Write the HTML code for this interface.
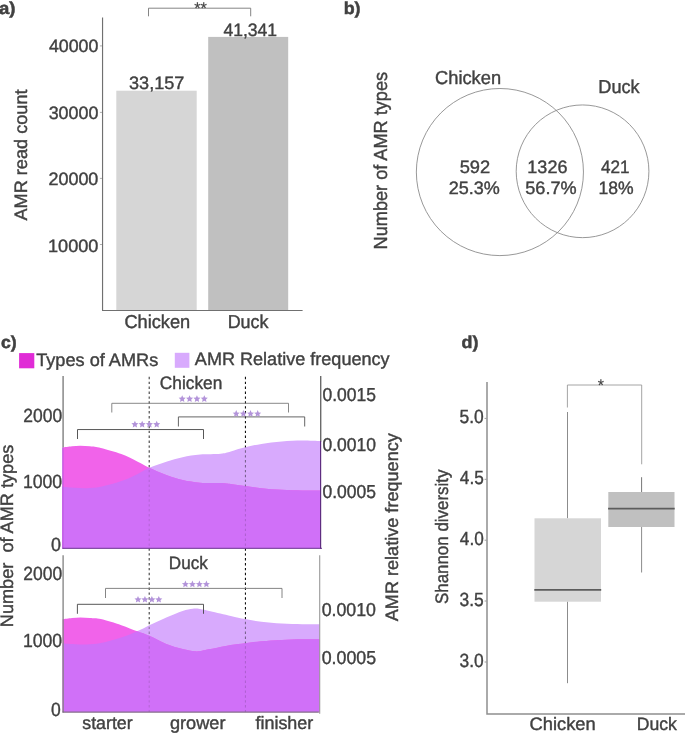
<!DOCTYPE html>
<html><head><meta charset="utf-8"><title>figure</title>
<style>
html,body{margin:0;padding:0;background:#fff;}
body{width:685px;height:733px;overflow:hidden;font-family:"Liberation Sans",sans-serif;}
svg{display:block;}
svg text{font-family:"Liberation Sans",sans-serif;text-rendering:geometricPrecision;white-space:pre;}
</style></head><body>
<svg width="685" height="733" viewBox="0 0 685 733" style="will-change:transform">
<rect x="0" y="0" width="685" height="733" fill="#ffffff"/>
<text transform="translate(-1.04 13.50) scale(1.0771 1)" font-size="17.20" font-weight="bold" fill="#414141" stroke="#414141" stroke-width="0.50">a)</text>
<rect x="116.30" y="90.70" width="80.40" height="219.80" fill="#d6d6d6"/>
<rect x="208.20" y="36.90" width="80.00" height="273.60" fill="#c0c0c0"/>
<path d="M102.55,17.5 V310.5 H302.6" stroke="#707070" stroke-width="1.15" fill="none"/>
<line x1="99.90" y1="45.90" x2="102.00" y2="45.90" stroke="#999" stroke-width="0.80"/>
<text transform="translate(48.92 52.20) scale(0.9877 1)" font-size="18.00" font-weight="normal" fill="#414141" stroke="#414141" stroke-width="0.40">40000</text>
<line x1="99.90" y1="112.40" x2="102.00" y2="112.40" stroke="#999" stroke-width="0.80"/>
<text transform="translate(48.65 119.00) scale(0.9932 1)" font-size="18.00" font-weight="normal" fill="#414141" stroke="#414141" stroke-width="0.40">30000</text>
<line x1="99.90" y1="178.40" x2="102.00" y2="178.40" stroke="#999" stroke-width="0.80"/>
<text transform="translate(48.42 185.30) scale(0.9978 1)" font-size="18.00" font-weight="normal" fill="#414141" stroke="#414141" stroke-width="0.40">20000</text>
<line x1="99.90" y1="244.50" x2="102.00" y2="244.50" stroke="#999" stroke-width="0.80"/>
<text transform="translate(47.96 251.70) scale(1.0072 1)" font-size="18.00" font-weight="normal" fill="#414141" stroke="#414141" stroke-width="0.40">10000</text>
<text transform="translate(129.04 88.80) scale(1.0056 1)" font-size="18.00" font-weight="normal" fill="#414141" stroke="#414141" stroke-width="0.40">33,157</text>
<text transform="translate(223.43 35.60) scale(0.9737 1)" font-size="18.00" font-weight="normal" fill="#414141" stroke="#414141" stroke-width="0.40">41,341</text>
<path d="M148.5,16.3 V8.2 H250.7 V16.3" stroke="#777" stroke-width="0.90" fill="none"/>
<text transform="translate(194.21 14.40) scale(0.9633 1)" font-size="17.00" font-weight="normal" fill="#414141" stroke="#414141" stroke-width="0.15">**</text>
<text transform="translate(124.41 328.20) scale(0.9801 1)" font-size="18.60" font-weight="normal" fill="#414141" stroke="#414141" stroke-width="0.40">Chicken</text>
<text transform="translate(227.64 328.20) scale(0.9641 1)" font-size="18.60" font-weight="normal" fill="#414141" stroke="#414141" stroke-width="0.40">Duck</text>
<text transform="translate(26.80 220.53) rotate(-90) scale(1.0076 1)" font-size="18.00" font-weight="normal" fill="#414141" stroke="#414141" stroke-width="0.40">AMR read count</text>
<text transform="translate(343.66 13.50) scale(1.0370 1)" font-size="17.20" font-weight="bold" fill="#414141" stroke="#414141" stroke-width="0.50">b)</text>
<circle cx="499.9" cy="172.05" r="83.55" fill="none" stroke="#858585" stroke-width="0.85"/>
<circle cx="582.55" cy="171.3" r="66.35" fill="none" stroke="#858585" stroke-width="0.85"/>
<text transform="translate(435.00 83.60) scale(0.9743 1)" font-size="18.80" font-weight="normal" fill="#414141" stroke="#414141" stroke-width="0.40">Chicken</text>
<text transform="translate(598.33 93.00) scale(0.9635 1)" font-size="18.80" font-weight="normal" fill="#414141" stroke="#414141" stroke-width="0.40">Duck</text>
<text transform="translate(459.69 172.70) scale(1.0164 1)" font-size="18.00" font-weight="normal" fill="#414141" stroke="#414141" stroke-width="0.40">592</text>
<text transform="translate(448.72 194.40) scale(1.0012 1)" font-size="18.00" font-weight="normal" fill="#414141" stroke="#414141" stroke-width="0.40">25.3%</text>
<text transform="translate(527.37 172.70) scale(0.9992 1)" font-size="18.00" font-weight="normal" fill="#414141" stroke="#414141" stroke-width="0.40">1326</text>
<text transform="translate(525.30 194.40) scale(1.0056 1)" font-size="18.00" font-weight="normal" fill="#414141" stroke="#414141" stroke-width="0.40">56.7%</text>
<text transform="translate(601.03 172.70) scale(0.9515 1)" font-size="18.00" font-weight="normal" fill="#414141" stroke="#414141" stroke-width="0.40">421</text>
<text transform="translate(598.50 194.40) scale(0.9747 1)" font-size="18.00" font-weight="normal" fill="#414141" stroke="#414141" stroke-width="0.40">18%</text>
<text transform="translate(387.40 249.38) rotate(-90) scale(0.9605 1)" font-size="18.90" font-weight="normal" fill="#414141" stroke="#414141" stroke-width="0.40">Number of AMR types</text>
<text transform="translate(1.01 347.90) scale(1.0250 1)" font-size="17.20" font-weight="bold" fill="#414141" stroke="#414141" stroke-width="0.50">c)</text>
<rect x="19.10" y="353.10" width="15.20" height="15.20" fill="#e02bd6"/>
<text transform="translate(36.21 365.90) scale(1.0079 1)" font-size="18.00" font-weight="normal" fill="#414141" stroke="#414141" stroke-width="0.40">Types of AMRs</text>
<rect x="174.80" y="352.80" width="14.60" height="15.00" fill="#d8aafd"/>
<text transform="translate(194.87 365.20) scale(1.0034 1)" font-size="18.00" font-weight="normal" fill="#414141" stroke="#414141" stroke-width="0.40">AMR Relative frequency</text>
<defs>
<clipPath id="cm"><path d="M62.40,447.50 C64.00,447.28 69.00,446.50 72.00,446.20 C75.00,445.90 77.40,445.68 80.40,445.70 C83.40,445.72 86.58,445.92 90.00,446.30 C93.42,446.68 95.68,446.70 100.90,448.00 C106.12,449.30 115.17,451.82 121.30,454.10 C127.43,456.38 133.03,459.42 137.70,461.70 C142.37,463.98 144.53,465.58 149.30,467.80 C154.07,470.02 160.75,472.95 166.30,475.00 C171.85,477.05 176.98,478.82 182.60,480.10 C188.22,481.38 193.67,482.20 200.00,482.70 C206.33,483.20 215.47,482.87 220.60,483.10 C225.73,483.33 226.72,483.60 230.80,484.10 C234.88,484.60 240.00,485.42 245.10,486.10 C250.20,486.78 255.28,487.58 261.40,488.20 C267.52,488.82 275.00,489.43 281.80,489.80 C288.60,490.17 295.73,490.27 302.20,490.40 C308.67,490.53 317.53,490.57 320.60,490.60 L320.60,548.30 L62.40,548.30 Z"/><path d="M62.60,619.20 C64.17,618.98 69.03,618.20 72.00,617.90 C74.97,617.60 77.40,617.40 80.40,617.40 C83.40,617.40 86.58,617.62 90.00,617.90 C93.42,618.18 95.68,617.88 100.90,619.10 C106.12,620.32 115.25,623.17 121.30,625.20 C127.35,627.23 132.53,629.53 137.20,631.30 C141.87,633.07 144.45,633.68 149.30,635.80 C154.15,637.92 160.75,641.78 166.30,644.00 C171.85,646.22 177.85,647.88 182.60,649.10 C187.35,650.32 191.57,651.03 194.80,651.30 C198.03,651.57 199.40,651.07 202.00,650.70 C204.60,650.33 205.60,650.05 210.40,649.10 C215.20,648.15 225.02,645.98 230.80,645.00 C236.58,644.02 240.00,643.82 245.10,643.20 C250.20,642.58 255.28,641.85 261.40,641.30 C267.52,640.75 275.00,640.23 281.80,639.90 C288.60,639.57 295.90,639.40 302.20,639.30 C308.50,639.20 316.70,639.30 319.60,639.30 L319.60,712.20 L62.60,712.20 Z"/></clipPath>
<clipPath id="cl"><path d="M62.40,486.80 C64.50,486.97 70.97,487.57 75.00,487.80 C79.03,488.03 82.28,488.37 86.60,488.20 C90.92,488.03 95.12,487.98 100.90,486.80 C106.68,485.62 115.17,483.25 121.30,481.10 C127.43,478.95 133.03,476.12 137.70,473.90 C142.37,471.68 144.53,469.83 149.30,467.80 C154.07,465.77 160.75,463.47 166.30,461.70 C171.85,459.93 176.95,458.40 182.60,457.20 C188.25,456.00 193.87,455.08 200.20,454.50 C206.53,453.92 215.50,454.22 220.60,453.70 C225.70,453.18 226.72,452.47 230.80,451.40 C234.88,450.33 240.00,448.55 245.10,447.30 C250.20,446.05 255.28,444.88 261.40,443.90 C267.52,442.92 275.00,441.95 281.80,441.40 C288.60,440.85 295.73,440.63 302.20,440.60 C308.67,440.57 317.53,441.10 320.60,441.20 L320.60,548.30 L62.40,548.30 Z"/><path d="M62.60,643.60 C64.67,643.70 71.00,644.07 75.00,644.20 C79.00,644.33 82.28,644.60 86.60,644.40 C90.92,644.20 95.12,644.15 100.90,643.00 C106.68,641.85 115.25,639.45 121.30,637.50 C127.35,635.55 132.53,633.35 137.20,631.30 C141.87,629.25 144.45,627.52 149.30,625.20 C154.15,622.88 160.75,619.78 166.30,617.40 C171.85,615.02 178.20,612.35 182.60,610.90 C187.00,609.45 189.80,609.02 192.70,608.70 C195.60,608.38 197.05,608.57 200.00,609.00 C202.95,609.43 205.27,610.13 210.40,611.30 C215.53,612.47 225.02,614.70 230.80,616.00 C236.58,617.30 240.00,618.15 245.10,619.10 C250.20,620.05 255.28,620.95 261.40,621.70 C267.52,622.45 275.00,623.18 281.80,623.60 C288.60,624.02 295.90,624.10 302.20,624.20 C308.50,624.30 316.70,624.20 319.60,624.20 L319.60,712.20 L62.60,712.20 Z"/></clipPath>
</defs>
<g opacity="1.00">
<line x1="149.20" y1="376.80" x2="149.20" y2="712.00" stroke="#363636" stroke-width="1.05" stroke-dasharray="2.4 2.5"/>
<line x1="245.45" y1="376.80" x2="245.45" y2="712.00" stroke="#111" stroke-width="1.10" stroke-dasharray="2.4 2.5"/>
</g>
<path d="M62.40,486.80 C64.50,486.97 70.97,487.57 75.00,487.80 C79.03,488.03 82.28,488.37 86.60,488.20 C90.92,488.03 95.12,487.98 100.90,486.80 C106.68,485.62 115.17,483.25 121.30,481.10 C127.43,478.95 133.03,476.12 137.70,473.90 C142.37,471.68 144.53,469.83 149.30,467.80 C154.07,465.77 160.75,463.47 166.30,461.70 C171.85,459.93 176.95,458.40 182.60,457.20 C188.25,456.00 193.87,455.08 200.20,454.50 C206.53,453.92 215.50,454.22 220.60,453.70 C225.70,453.18 226.72,452.47 230.80,451.40 C234.88,450.33 240.00,448.55 245.10,447.30 C250.20,446.05 255.28,444.88 261.40,443.90 C267.52,442.92 275.00,441.95 281.80,441.40 C288.60,440.85 295.73,440.63 302.20,440.60 C308.67,440.57 317.53,441.10 320.60,441.20 L320.60,548.30 L62.40,548.30 Z" stroke="none" stroke-width="0.00" fill="#d8aafd"/>
<path d="M62.60,643.60 C64.67,643.70 71.00,644.07 75.00,644.20 C79.00,644.33 82.28,644.60 86.60,644.40 C90.92,644.20 95.12,644.15 100.90,643.00 C106.68,641.85 115.25,639.45 121.30,637.50 C127.35,635.55 132.53,633.35 137.20,631.30 C141.87,629.25 144.45,627.52 149.30,625.20 C154.15,622.88 160.75,619.78 166.30,617.40 C171.85,615.02 178.20,612.35 182.60,610.90 C187.00,609.45 189.80,609.02 192.70,608.70 C195.60,608.38 197.05,608.57 200.00,609.00 C202.95,609.43 205.27,610.13 210.40,611.30 C215.53,612.47 225.02,614.70 230.80,616.00 C236.58,617.30 240.00,618.15 245.10,619.10 C250.20,620.05 255.28,620.95 261.40,621.70 C267.52,622.45 275.00,623.18 281.80,623.60 C288.60,624.02 295.90,624.10 302.20,624.20 C308.50,624.30 316.70,624.20 319.60,624.20 L319.60,712.20 L62.60,712.20 Z" stroke="none" stroke-width="0.00" fill="#d8aafd"/>
<g opacity="0.47" clip-path="url(#cl)">
<line x1="149.20" y1="376.80" x2="149.20" y2="712.00" stroke="#363636" stroke-width="1.05" stroke-dasharray="2.4 2.5"/>
<line x1="245.45" y1="376.80" x2="245.45" y2="712.00" stroke="#111" stroke-width="1.10" stroke-dasharray="2.4 2.5"/>
</g>
<path d="M62.40,447.50 C64.00,447.28 69.00,446.50 72.00,446.20 C75.00,445.90 77.40,445.68 80.40,445.70 C83.40,445.72 86.58,445.92 90.00,446.30 C93.42,446.68 95.68,446.70 100.90,448.00 C106.12,449.30 115.17,451.82 121.30,454.10 C127.43,456.38 133.03,459.42 137.70,461.70 C142.37,463.98 144.53,465.58 149.30,467.80 C154.07,470.02 160.75,472.95 166.30,475.00 C171.85,477.05 176.98,478.82 182.60,480.10 C188.22,481.38 193.67,482.20 200.00,482.70 C206.33,483.20 215.47,482.87 220.60,483.10 C225.73,483.33 226.72,483.60 230.80,484.10 C234.88,484.60 240.00,485.42 245.10,486.10 C250.20,486.78 255.28,487.58 261.40,488.20 C267.52,488.82 275.00,489.43 281.80,489.80 C288.60,490.17 295.73,490.27 302.20,490.40 C308.67,490.53 317.53,490.57 320.60,490.60 L320.60,548.30 L62.40,548.30 Z" stroke="none" stroke-width="0.00" fill="#f163ea"/>
<path d="M62.60,619.20 C64.17,618.98 69.03,618.20 72.00,617.90 C74.97,617.60 77.40,617.40 80.40,617.40 C83.40,617.40 86.58,617.62 90.00,617.90 C93.42,618.18 95.68,617.88 100.90,619.10 C106.12,620.32 115.25,623.17 121.30,625.20 C127.35,627.23 132.53,629.53 137.20,631.30 C141.87,633.07 144.45,633.68 149.30,635.80 C154.15,637.92 160.75,641.78 166.30,644.00 C171.85,646.22 177.85,647.88 182.60,649.10 C187.35,650.32 191.57,651.03 194.80,651.30 C198.03,651.57 199.40,651.07 202.00,650.70 C204.60,650.33 205.60,650.05 210.40,649.10 C215.20,648.15 225.02,645.98 230.80,645.00 C236.58,644.02 240.00,643.82 245.10,643.20 C250.20,642.58 255.28,641.85 261.40,641.30 C267.52,640.75 275.00,640.23 281.80,639.90 C288.60,639.57 295.90,639.40 302.20,639.30 C308.50,639.20 316.70,639.30 319.60,639.30 L319.60,712.20 L62.60,712.20 Z" stroke="none" stroke-width="0.00" fill="#f163ea"/>
<g clip-path="url(#cm)">
<path d="M62.40,486.80 C64.50,486.97 70.97,487.57 75.00,487.80 C79.03,488.03 82.28,488.37 86.60,488.20 C90.92,488.03 95.12,487.98 100.90,486.80 C106.68,485.62 115.17,483.25 121.30,481.10 C127.43,478.95 133.03,476.12 137.70,473.90 C142.37,471.68 144.53,469.83 149.30,467.80 C154.07,465.77 160.75,463.47 166.30,461.70 C171.85,459.93 176.95,458.40 182.60,457.20 C188.25,456.00 193.87,455.08 200.20,454.50 C206.53,453.92 215.50,454.22 220.60,453.70 C225.70,453.18 226.72,452.47 230.80,451.40 C234.88,450.33 240.00,448.55 245.10,447.30 C250.20,446.05 255.28,444.88 261.40,443.90 C267.52,442.92 275.00,441.95 281.80,441.40 C288.60,440.85 295.73,440.63 302.20,440.60 C308.67,440.57 317.53,441.10 320.60,441.20 L320.60,548.30 L62.40,548.30 Z" stroke="none" stroke-width="0.00" fill="#d070f8"/>
<path d="M62.60,643.60 C64.67,643.70 71.00,644.07 75.00,644.20 C79.00,644.33 82.28,644.60 86.60,644.40 C90.92,644.20 95.12,644.15 100.90,643.00 C106.68,641.85 115.25,639.45 121.30,637.50 C127.35,635.55 132.53,633.35 137.20,631.30 C141.87,629.25 144.45,627.52 149.30,625.20 C154.15,622.88 160.75,619.78 166.30,617.40 C171.85,615.02 178.20,612.35 182.60,610.90 C187.00,609.45 189.80,609.02 192.70,608.70 C195.60,608.38 197.05,608.57 200.00,609.00 C202.95,609.43 205.27,610.13 210.40,611.30 C215.53,612.47 225.02,614.70 230.80,616.00 C236.58,617.30 240.00,618.15 245.10,619.10 C250.20,620.05 255.28,620.95 261.40,621.70 C267.52,622.45 275.00,623.18 281.80,623.60 C288.60,624.02 295.90,624.10 302.20,624.20 C308.50,624.30 316.70,624.20 319.60,624.20 L319.60,712.20 L62.60,712.20 Z" stroke="none" stroke-width="0.00" fill="#d070f8"/>
</g>
<g opacity="0.16" clip-path="url(#cm)">
<line x1="149.20" y1="376.80" x2="149.20" y2="712.00" stroke="#363636" stroke-width="1.05" stroke-dasharray="2.4 2.5"/>
<line x1="245.45" y1="376.80" x2="245.45" y2="712.00" stroke="#111" stroke-width="1.10" stroke-dasharray="2.4 2.5"/>
</g>
<line x1="63.10" y1="376.00" x2="63.10" y2="447.60" stroke="#888" stroke-width="1.50"/>
<line x1="62.90" y1="447.40" x2="62.90" y2="548.60" stroke="#b255dc" stroke-width="1.00"/>
<line x1="62.40" y1="548.30" x2="322.00" y2="548.30" stroke="#6a3590" stroke-width="1.00"/>
<line x1="320.70" y1="376.00" x2="320.70" y2="441.40" stroke="#6a6a6a" stroke-width="1.40"/>
<line x1="320.60" y1="441.00" x2="320.60" y2="548.80" stroke="#5e2d80" stroke-width="1.20"/>
<line x1="63.10" y1="555.30" x2="63.10" y2="712.60" stroke="#808080" stroke-width="1.30"/>
<line x1="62.50" y1="712.10" x2="318.80" y2="712.10" stroke="#707070" stroke-width="1.00"/>
<line x1="319.70" y1="555.30" x2="319.70" y2="713.70" stroke="#999" stroke-width="1.10"/>
<text transform="translate(23.35 422.20) scale(0.9185 1)" font-size="19.00" font-weight="normal" fill="#414141" stroke="#414141" stroke-width="0.40">2000</text>
<text transform="translate(22.90 488.20) scale(0.9294 1)" font-size="19.00" font-weight="normal" fill="#414141" stroke="#414141" stroke-width="0.40">1000</text>
<text transform="translate(50.90 551.20) scale(0.9435 1)" font-size="19.00" font-weight="normal" fill="#414141" stroke="#414141" stroke-width="0.40">0</text>
<text transform="translate(23.35 580.20) scale(0.9185 1)" font-size="19.00" font-weight="normal" fill="#414141" stroke="#414141" stroke-width="0.40">2000</text>
<text transform="translate(22.90 647.20) scale(0.9294 1)" font-size="19.00" font-weight="normal" fill="#414141" stroke="#414141" stroke-width="0.40">1000</text>
<text transform="translate(50.92 716.40) scale(0.9215 1)" font-size="19.00" font-weight="normal" fill="#414141" stroke="#414141" stroke-width="0.40">0</text>
<text transform="translate(322.52 400.50) scale(0.9300 1)" font-size="18.80" font-weight="normal" fill="#414141" stroke="#414141" stroke-width="0.40">0.0015</text>
<text transform="translate(322.52 450.80) scale(0.9292 1)" font-size="18.80" font-weight="normal" fill="#414141" stroke="#414141" stroke-width="0.40">0.0010</text>
<text transform="translate(322.52 498.20) scale(0.9300 1)" font-size="18.80" font-weight="normal" fill="#414141" stroke="#414141" stroke-width="0.40">0.0005</text>
<text transform="translate(321.71 616.20) scale(0.9444 1)" font-size="18.80" font-weight="normal" fill="#414141" stroke="#414141" stroke-width="0.40">0.0010</text>
<text transform="translate(321.71 664.40) scale(0.9452 1)" font-size="18.80" font-weight="normal" fill="#414141" stroke="#414141" stroke-width="0.40">0.0005</text>
<text transform="translate(159.86 389.10) scale(0.9604 1)" font-size="18.00" font-weight="normal" fill="#414141" stroke="#414141" stroke-width="0.40">Chicken</text>
<text transform="translate(168.81 569.00) scale(0.9506 1)" font-size="18.00" font-weight="normal" fill="#414141" stroke="#414141" stroke-width="0.40">Duck</text>
<path d="M111.8,412.5 V403.3 H288.5 V412.5" stroke="#7a7a7a" stroke-width="0.90" fill="none"/>
<path d="M178.4,426.5 V416.9 H304.7 V426.5" stroke="#555" stroke-width="0.90" fill="none"/>
<path d="M77.5,439.0 V429.55 H203.5 V439.0" stroke="#444" stroke-width="0.90" fill="none"/>
<polygon points="182.20,395.20 183.23,397.48 185.72,397.76 183.86,399.44 184.37,401.89 182.20,400.65 180.03,401.89 180.54,399.44 178.68,397.76 181.17,397.48" fill="#b394da"/>
<polygon points="189.57,395.20 190.60,397.48 193.09,397.76 191.23,399.44 191.74,401.89 189.57,400.65 187.39,401.89 187.90,399.44 186.05,397.76 188.54,397.48" fill="#b394da"/>
<polygon points="196.93,395.20 197.96,397.48 200.45,397.76 198.60,399.44 199.11,401.89 196.93,400.65 194.76,401.89 195.27,399.44 193.41,397.76 195.90,397.48" fill="#b394da"/>
<polygon points="204.30,395.20 205.33,397.48 207.82,397.76 205.96,399.44 206.47,401.89 204.30,400.65 202.13,401.89 202.64,399.44 200.78,397.76 203.27,397.48" fill="#b394da"/>
<polygon points="236.20,410.10 237.23,412.38 239.72,412.66 237.86,414.34 238.37,416.79 236.20,415.55 234.03,416.79 234.54,414.34 232.68,412.66 235.17,412.38" fill="#b394da"/>
<polygon points="243.37,410.10 244.40,412.38 246.89,412.66 245.03,414.34 245.54,416.79 243.37,415.55 241.19,416.79 241.70,414.34 239.85,412.66 242.34,412.38" fill="#b394da"/>
<polygon points="250.53,410.10 251.56,412.38 254.05,412.66 252.20,414.34 252.71,416.79 250.53,415.55 248.36,416.79 248.87,414.34 247.01,412.66 249.50,412.38" fill="#b394da"/>
<polygon points="257.70,410.10 258.73,412.38 261.22,412.66 259.36,414.34 259.87,416.79 257.70,415.55 255.53,416.79 256.04,414.34 254.18,412.66 256.67,412.38" fill="#b394da"/>
<polygon points="134.90,420.80 135.93,423.08 138.42,423.36 136.56,425.04 137.07,427.49 134.90,426.25 132.73,427.49 133.24,425.04 131.38,423.36 133.87,423.08" fill="#b394da"/>
<polygon points="142.17,420.80 143.20,423.08 145.69,423.36 143.83,425.04 144.34,427.49 142.17,426.25 139.99,427.49 140.50,425.04 138.65,423.36 141.14,423.08" fill="#b394da"/>
<polygon points="149.43,420.80 150.46,423.08 152.95,423.36 151.10,425.04 151.61,427.49 149.43,426.25 147.26,427.49 147.77,425.04 145.91,423.36 148.40,423.08" fill="#b394da"/>
<polygon points="156.70,420.80 157.73,423.08 160.22,423.36 158.36,425.04 158.87,427.49 156.70,426.25 154.53,427.49 155.04,425.04 153.18,423.36 155.67,423.08" fill="#b394da"/>
<path d="M105.5,598 V588.4 H282 V598" stroke="#777" stroke-width="0.90" fill="none"/>
<path d="M77.4,613.8 V604.3 H203.5 V613.8" stroke="#444" stroke-width="0.90" fill="none"/>
<polygon points="185.40,580.60 186.43,582.88 188.92,583.16 187.06,584.84 187.57,587.29 185.40,586.05 183.23,587.29 183.74,584.84 181.88,583.16 184.37,582.88" fill="#b394da"/>
<polygon points="192.40,580.60 193.43,582.88 195.92,583.16 194.06,584.84 194.57,587.29 192.40,586.05 190.23,587.29 190.74,584.84 188.88,583.16 191.37,582.88" fill="#b394da"/>
<polygon points="199.40,580.60 200.43,582.88 202.92,583.16 201.06,584.84 201.57,587.29 199.40,586.05 197.23,587.29 197.74,584.84 195.88,583.16 198.37,582.88" fill="#b394da"/>
<polygon points="206.40,580.60 207.43,582.88 209.92,583.16 208.06,584.84 208.57,587.29 206.40,586.05 204.23,587.29 204.74,584.84 202.88,583.16 205.37,582.88" fill="#b394da"/>
<polygon points="138.00,595.90 139.03,598.18 141.52,598.46 139.66,600.14 140.17,602.59 138.00,601.35 135.83,602.59 136.34,600.14 134.48,598.46 136.97,598.18" fill="#b394da"/>
<polygon points="144.93,595.90 145.96,598.18 148.45,598.46 146.60,600.14 147.11,602.59 144.93,601.35 142.76,602.59 143.27,600.14 141.41,598.46 143.90,598.18" fill="#b394da"/>
<polygon points="151.87,595.90 152.90,598.18 155.39,598.46 153.53,600.14 154.04,602.59 151.87,601.35 149.69,602.59 150.20,600.14 148.35,598.46 150.84,598.18" fill="#b394da"/>
<polygon points="158.80,595.90 159.83,598.18 162.32,598.46 160.46,600.14 160.97,602.59 158.80,601.35 156.63,602.59 157.14,600.14 155.28,598.46 157.77,598.18" fill="#b394da"/>
<text transform="translate(82.23 728.90) scale(0.9888 1)" font-size="18.00" font-weight="normal" fill="#414141" stroke="#414141" stroke-width="0.40">starter</text>
<text transform="translate(169.95 728.90) scale(1.0094 1)" font-size="18.00" font-weight="normal" fill="#414141" stroke="#414141" stroke-width="0.40">grower</text>
<text transform="translate(255.45 728.90) scale(0.9964 1)" font-size="18.00" font-weight="normal" fill="#414141" stroke="#414141" stroke-width="0.40">finisher</text>
<text transform="translate(13.40 627.18) rotate(-90) scale(1.0078 1)" font-size="18.00" font-weight="normal" fill="#414141" stroke="#414141" stroke-width="0.40">Number  of AMR types</text>
<text transform="translate(398.00 621.23) rotate(-90) scale(1.0053 1)" font-size="18.00" font-weight="normal" fill="#414141" stroke="#414141" stroke-width="0.40">AMR relative frequency</text>
<text transform="translate(461.50 347.80) scale(1.0407 1)" font-size="17.20" font-weight="bold" fill="#414141" stroke="#414141" stroke-width="0.50">d)</text>
<path d="M487.0,382 V714.0 H685" stroke="#8f8f8f" stroke-width="1.50" fill="none"/>
<line x1="484.60" y1="418.40" x2="486.50" y2="418.40" stroke="#8f8f8f" stroke-width="0.90"/>
<text transform="translate(459.52 423.00) scale(0.9167 1)" font-size="19.00" font-weight="normal" fill="#414141" stroke="#414141" stroke-width="0.40">5.0</text>
<line x1="484.60" y1="479.30" x2="486.50" y2="479.30" stroke="#8f8f8f" stroke-width="0.90"/>
<text transform="translate(459.83 483.90) scale(0.9063 1)" font-size="19.00" font-weight="normal" fill="#414141" stroke="#414141" stroke-width="0.40">4.5</text>
<line x1="484.60" y1="540.20" x2="486.50" y2="540.20" stroke="#8f8f8f" stroke-width="0.90"/>
<text transform="translate(459.83 544.80) scale(0.9046 1)" font-size="19.00" font-weight="normal" fill="#414141" stroke="#414141" stroke-width="0.40">4.0</text>
<line x1="484.60" y1="601.00" x2="486.50" y2="601.00" stroke="#8f8f8f" stroke-width="0.90"/>
<text transform="translate(459.57 605.60) scale(0.9167 1)" font-size="19.00" font-weight="normal" fill="#414141" stroke="#414141" stroke-width="0.40">3.5</text>
<line x1="484.60" y1="662.00" x2="486.50" y2="662.00" stroke="#8f8f8f" stroke-width="0.90"/>
<text transform="translate(459.57 666.60) scale(0.9149 1)" font-size="19.00" font-weight="normal" fill="#414141" stroke="#414141" stroke-width="0.40">3.0</text>
<line x1="567.50" y1="412.00" x2="567.50" y2="518.30" stroke="#8c8c8c" stroke-width="1.00"/>
<line x1="567.50" y1="601.50" x2="567.50" y2="683.20" stroke="#8c8c8c" stroke-width="1.00"/>
<line x1="641.60" y1="477.20" x2="641.60" y2="492.00" stroke="#777" stroke-width="1.00"/>
<line x1="641.60" y1="527.00" x2="641.60" y2="572.50" stroke="#8c8c8c" stroke-width="1.00"/>
<rect x="534.50" y="518.30" width="66.50" height="83.40" fill="#d6d6d6"/>
<rect x="608.30" y="492.00" width="66.20" height="35.00" fill="#c0c0c0"/>
<line x1="534.30" y1="589.90" x2="601.20" y2="589.90" stroke="#5c5c5c" stroke-width="1.80"/>
<line x1="608.10" y1="508.60" x2="674.70" y2="508.60" stroke="#5c5c5c" stroke-width="1.80"/>
<path d="M567.4,407.5 V385.0 H641.7 V464.3" stroke="#9a9a9a" stroke-width="0.90" fill="none"/>
<text transform="translate(597.77 390.80) scale(0.9362 1)" font-size="17.00" font-weight="normal" fill="#414141" stroke="#414141" stroke-width="0.15">*</text>
<text transform="translate(529.50 729.60) scale(1.0176 1)" font-size="18.00" font-weight="normal" fill="#414141" stroke="#414141" stroke-width="0.40">Chicken</text>
<text transform="translate(636.77 729.60) scale(0.9785 1)" font-size="18.00" font-weight="normal" fill="#414141" stroke="#414141" stroke-width="0.40">Duck</text>
<text transform="translate(448.00 604.04) rotate(-90) scale(0.9396 1)" font-size="18.00" font-weight="normal" fill="#414141" stroke="#414141" stroke-width="0.40">Shannon diversity</text>
</svg>
</body></html>
